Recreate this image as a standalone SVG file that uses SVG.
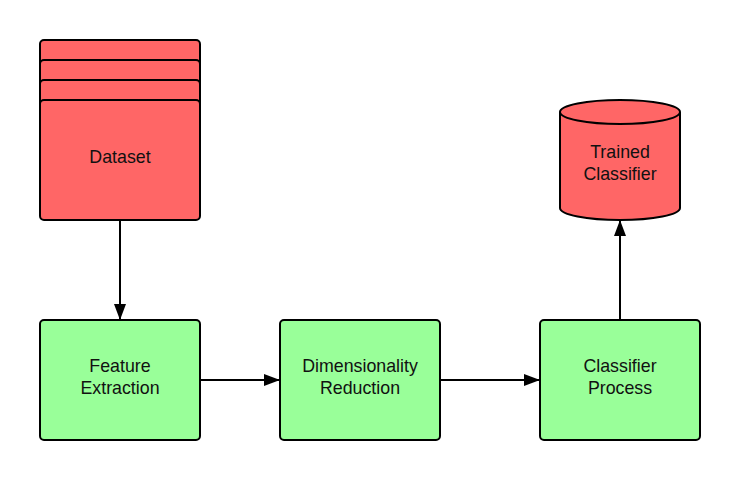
<svg xmlns="http://www.w3.org/2000/svg" width="740" height="480" viewBox="0 0 740 480">
<defs>
<style>
.red{fill:#FF6666;stroke:#000;stroke-width:2}
.green{fill:#99FF99;stroke:#000;stroke-width:2}
.t{font-family:"Liberation Sans",Arial,sans-serif;font-size:17.8px;fill:#111;text-anchor:middle}
.c{stroke:#000;stroke-width:2;fill:none}
</style>
<marker id="ah" viewBox="0 0 16 12" refX="16" refY="6" markerWidth="16" markerHeight="12" markerUnits="userSpaceOnUse" orient="auto">
<path d="M0,0 L16,6 L0,12 Z" fill="#000"/>
</marker>
</defs>
<rect width="740" height="480" fill="#fff"/>
<g id="dataset">
<rect class="red" x="40" y="40" width="160" height="60" rx="4"/>
<rect class="red" x="40" y="60" width="160" height="60" rx="4"/>
<rect class="red" x="40" y="80" width="160" height="60" rx="4"/>
<rect class="red" x="40" y="100" width="160" height="120" rx="4"/>
<text class="t" x="120" y="163">Dataset</text>
</g>
<g id="feature">
<rect class="green" x="40" y="320" width="160" height="120" rx="4"/>
<text class="t" x="120" y="372">Feature</text>
<text class="t" x="120" y="394">Extraction</text>
</g>
<g id="dimred">
<rect class="green" x="280" y="320" width="160" height="120" rx="4"/>
<text class="t" x="360" y="372">Dimensionality</text>
<text class="t" x="360" y="394">Reduction</text>
</g>
<g id="classifier">
<rect class="green" x="540" y="320" width="160" height="120" rx="4"/>
<text class="t" x="620" y="372">Classifier</text>
<text class="t" x="620" y="394">Process</text>
</g>
<g id="trained">
<path class="red" d="M560,112 L560,208 A60,12 0 0 0 680,208 L680,112 A60,12 0 0 0 560,112 Z"/>
<path class="c" d="M560,112 A60,12 0 0 0 680,112"/>
<text class="t" x="620" y="158">Trained</text>
<text class="t" x="620" y="180">Classifier</text>
</g>
<g id="connectors">
<line class="c" x1="120" y1="220" x2="120" y2="320" marker-end="url(#ah)"/>
<line class="c" x1="200" y1="380" x2="280" y2="380" marker-end="url(#ah)"/>
<line class="c" x1="440" y1="380" x2="540" y2="380" marker-end="url(#ah)"/>
<line class="c" x1="620" y1="320" x2="620" y2="220" marker-end="url(#ah)"/>
</g>
</svg>
